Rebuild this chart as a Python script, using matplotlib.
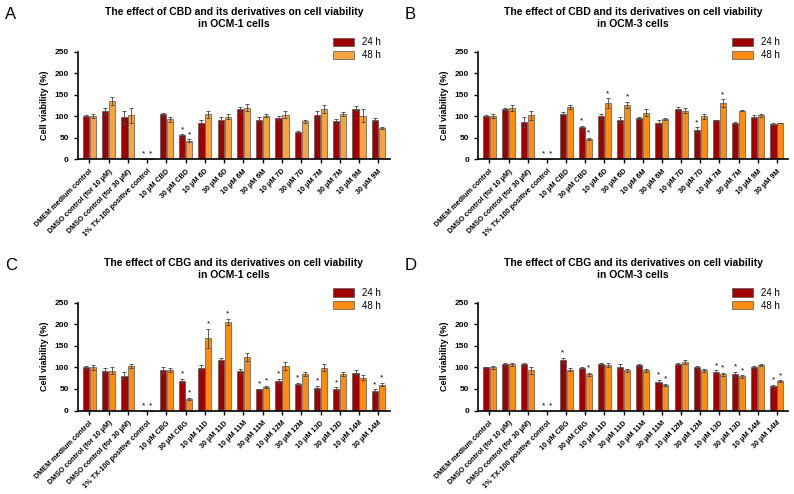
import numpy as np
import matplotlib.pyplot as plt

plt.rcParams['font.family'] = ['Liberation Sans', 'DejaVu Sans']

base = ["DMEM medium control", "DMSO control (for 10 μM)", "DMSO control (for 30 μM)",
        "1% TX-100 positive control"]
labels_cbd = base + ["10 μM CBD", "30 μM CBD", "10 μM 6D", "30 μM 6D", "10 μM 6M", "30 μM 6M",
                     "10 μM 7D", "30 μM 7D", "10 μM 7M", "30 μM 7M", "10 μM 9M", "30 μM 9M"]
labels_cbg = base + ["10 μM CBG", "30 μM CBG", "10 μM 11D", "30 μM 11D", "10 μM 11M", "30 μM 11M",
                     "10 μM 12M", "30 μM 12M", "10 μM 13D", "30 μM 13D", "10 μM 14M", "30 μM 14M"]

# Panel A: CBD, OCM-1
a24 = [100, 113, 97, 0, 104, 55, 84, 91, 116, 92, 96, 63, 103, 88, 117, 92]
a24e = [3, 7, 14, 0, 4, 3, 6, 6, 6, 5, 4, 3, 8, 6, 6, 3]
a48 = [101, 135, 102, 0, 93, 43, 104, 99, 120, 101, 103, 88, 117, 105, 101, 72]
a48e = [5, 9, 18, 0, 6, 3, 9, 5, 9, 4, 8, 3, 10, 4, 15, 2]
a_s24 = [3, 5]
a_s48 = [3, 5]

# Panel B: CBD, OCM-3
b24 = [100, 117, 87, 0, 106, 74, 100, 91, 96, 85, 116, 68, 90, 84, 99, 82]
b24e = [2, 3, 12, 0, 3, 4, 6, 6, 2, 5, 5, 6, 2, 2, 4, 3]
b48 = [100, 119, 102, 0, 121, 47, 131, 126, 108, 93, 113, 100, 130, 113, 102, 84]
b48e = [4, 6, 11, 0, 5, 3, 11, 7, 8, 3, 5, 6, 9, 2, 4, 1]
b_s24 = [3, 5, 11]
b_s48 = [3, 5, 6, 7, 12]

# Panel C: CBG, OCM-1
c24 = [100, 92, 81, 0, 95, 69, 99, 117, 91, 49, 69, 62, 53, 51, 88, 46]
c24e = [3, 6, 8, 0, 5, 4, 6, 6, 5, 2, 4, 3, 5, 3, 5, 3]
c48 = [100, 92, 104, 0, 94, 27, 168, 206, 124, 55, 103, 84, 99, 85, 76, 60]
c48e = [6, 8, 5, 0, 4, 3, 22, 7, 9, 2, 9, 5, 8, 5, 6, 4]
c_s24 = [3, 5, 9, 10, 11, 12, 13, 15]
c_s48 = [3, 5, 6, 7, 9, 15]

# Panel D: CBG, OCM-3
d24 = [100, 107, 107, 0, 117, 99, 107, 102, 105, 67, 108, 101, 90, 85, 100, 57]
d24e = [2, 3, 3, 0, 6, 3, 3, 5, 4, 4, 3, 3, 3, 5, 4, 3]
d48 = [100, 107, 93, 0, 95, 84, 106, 93, 93, 60, 112, 93, 84, 79, 106, 68]
d48e = [3, 4, 9, 0, 3, 3, 5, 3, 4, 2, 5, 4, 3, 3, 3, 2]
d_s24 = [3, 4, 9, 12, 13, 15]
d_s48 = [3, 5, 9, 12, 13, 15]

panels = [
    ("A", "The effect of CBD and its derivatives on cell viability\nin OCM-1 cells", labels_cbd,
     a24, a24e, a48, a48e, a_s24, a_s48, "#F5A440", [0.098, 0.678, 0.393, 0.217]),
    ("B", "The effect of CBD and its derivatives on cell viability\nin OCM-3 cells", labels_cbd,
     b24, b24e, b48, b48e, b_s24, b_s48, "#FF8C10", [0.602, 0.678, 0.391, 0.217]),
    ("C", "The effect of CBG and its derivatives on cell viability\nin OCM-1 cells", labels_cbg,
     c24, c24e, c48, c48e, c_s24, c_s48, "#FF8C10", [0.098, 0.169, 0.393, 0.218]),
    ("D", "The effect of CBG and its derivatives on cell viability\nin OCM-3 cells", labels_cbg,
     d24, d24e, d48, d48e, d_s24, d_s48, "#FF8C10", [0.602, 0.169, 0.391, 0.218]),
]

fig = plt.figure(figsize=(7.94, 4.94), dpi=100)
red = "#A00000"
w = 0.32

for letter, title, labels, v24, e24, v48, e48, s24, s48, orange, rect in panels:
    ax = fig.add_axes(rect)
    x = np.arange(len(labels))
    ax.bar(x - 0.18, v24, w, color=red, edgecolor="#555555", linewidth=0.5,
           yerr=e24, error_kw=dict(lw=0.6, capsize=1.2, capthick=0.6, ecolor="#444444"), label="24 h")
    ax.bar(x + 0.18, v48, w, color=orange, edgecolor="#555555", linewidth=0.5,
           yerr=e48, error_kw=dict(lw=0.6, capsize=1.2, capthick=0.6, ecolor="#444444"), label="48 h")
    for i in s24:
        ax.text(i - 0.18, v24[i] + e24[i] + 3, "*", ha="center", va="bottom", fontsize=6)
    for i in s48:
        ax.text(i + 0.18, v48[i] + e48[i] + 3, "*", ha="center", va="bottom", fontsize=6)
    ax.set_xlim(-0.6, len(labels) - 0.4)
    ax.set_ylim(0, 250)
    ax.set_yticks([0, 50, 100, 150, 200, 250])
    ax.set_xticks(x)
    ax.set_xticklabels(labels, rotation=45, ha="right", rotation_mode="anchor",
                       fontsize=5.2, fontweight="bold")
    ax.tick_params(axis="y", labelsize=6, width=1, length=3)
    for t in ax.get_yticklabels():
        t.set_fontweight("bold")
    ax.tick_params(axis="x", width=1, length=3)
    ax.spines["top"].set_visible(False)
    ax.spines["right"].set_visible(False)
    ax.spines["left"].set_linewidth(1.2)
    ax.spines["bottom"].set_linewidth(1.2)
    ax.set_ylabel("Cell viability (%)", fontsize=6.5, fontweight="bold")
    ax.set_title(title, fontsize=7.5, fontweight="bold", pad=18)
    ax.legend(loc="upper right", bbox_to_anchor=(1.0, 1.22), frameon=False, fontsize=7,
              handlelength=2.2, handleheight=0.9, labelspacing=0.3)
    fig.text(rect[0] - 0.092, rect[1] + rect[3] + 0.075, letter, fontsize=12, va="center")

fig.savefig("out.png", dpi=100)
